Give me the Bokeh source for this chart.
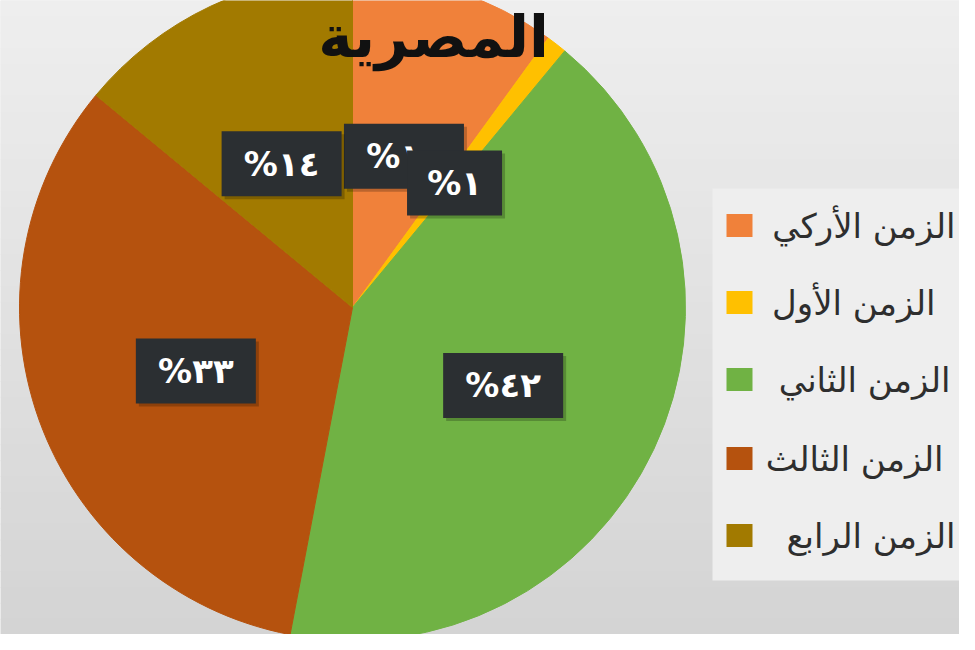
import math
from bokeh.plotting import figure
from bokeh.models import Range1d
from bokeh.core.properties import value
from bokeh.embed import file_html
from bokeh.resources import INLINE

# ---- data ----
categories = ["الزمن الأركي", "الزمن الأول", "الزمن الثاني", "الزمن الثالث", "الزمن الرابع"]
values = [10, 1, 42, 33, 14]
labels = ["%١٠", "%١", "%٤٢", "%٣٣", "%١٤"]
colors = ["#f0813a", "#ffc000", "#70b244", "#b5520e", "#a27a00"]
title_text = "المصرية"

W, H = 959, 634
p = figure(width=W, height=H, output_backend="svg", toolbar_location=None,
           x_range=Range1d(0, W), y_range=Range1d(0, H),
           x_axis_location=None, y_axis_location=None, min_border=0)
p.grid.visible = False
p.outline_line_color = None
p.background_fill_color = "#e6e6e6"
p.border_fill_color = "#e6e6e6"

# soft vertical background gradient (decoration)
nb = 40
top_c, bot_c = (0xee, 0xee, 0xee), (0xd4, 0xd4, 0xd4)
bl, br, bb, bt, bc = [], [], [], [], []
for k in range(nb):
    t = k / (nb - 1)
    c = tuple(int(round(top_c[j] + (bot_c[j] - top_c[j]) * t)) for j in range(3))
    bl.append(0); br.append(W)
    bt.append(H - k * H / nb); bb.append(H - (k + 1) * H / nb - 1)
    bc.append("#%02x%02x%02x" % c)
p.quad(left=bl, right=br, bottom=bb, top=bt, fill_color=bc, line_color=None)

# lighter legend panel
p.quad(left=[712], right=[W], bottom=[H - 580], top=[H - 188],
       fill_color="#eeeeee", line_color=None)

# ---- pie ----
cx, cy, R = 352, 327, 333
total = sum(values)
cum = 0.0
starts, ends, mids = [], [], []
for v in values:
    a0 = cum / total
    cum += v
    a1 = cum / total
    starts.append(math.pi / 2 - 2 * math.pi * a0)
    ends.append(math.pi / 2 - 2 * math.pi * a1)
    mids.append(math.pi / 2 - 2 * math.pi * (a0 + a1) / 2)

p.wedge(x=cx, y=cy, radius=R, start_angle=starts, end_angle=ends,
        direction="clock", fill_color=colors, line_color=colors, line_width=1)

# ---- data labels (dark boxes) ----
rl = 0.5 * R
lx = [cx + rl * math.cos(m) for m in mids]
ly = [cy - 7 + rl * math.sin(m) for m in mids]
bw = [120 if len(t) > 2 else 95 for t in labels]
for i in range(len(values)):
    p.rect(x=[lx[i] + 3], y=[ly[i] - 3], width=bw[i], height=65,
           width_units="screen", height_units="screen",
           fill_color="#000000", fill_alpha=0.22, line_color=None)
    p.rect(x=[lx[i]], y=[ly[i]], width=bw[i], height=65,
           width_units="screen", height_units="screen",
           fill_color="#2b2f32", line_color=None)
    p.text(x=[lx[i]], y=[ly[i]], text=[labels[i]], text_color="white",
           text_font=value("DejaVu Sans"), text_font_style="bold",
           text_font_size="34px", text_align="center", text_baseline="middle")

# ---- title ----
p.text(x=[433], y=[H - 36], text=[title_text], text_color="#111111",
       text_font=value("DejaVu Sans"), text_font_style="bold",
       text_font_size="58px", text_align="center", text_baseline="middle")

# ---- legend ----
leg_y = [225, 302, 379, 458, 535]
leg_right = [970, 935, 950, 943, 955]
for i, c in enumerate(categories):
    y = H - leg_y[i]
    p.rect(x=[739], y=[y], width=26, height=23, width_units="screen",
           height_units="screen", fill_color=colors[i], line_color=None)
    p.text(x=[min(leg_right[i], W - 4)], y=[y], text=[c], text_color="#2e2e2e",
           text_font=value("DejaVu Sans"), text_font_size="34px",
           text_align="right", text_baseline="middle")

open("out.html", "w").write(file_html(p, INLINE))
